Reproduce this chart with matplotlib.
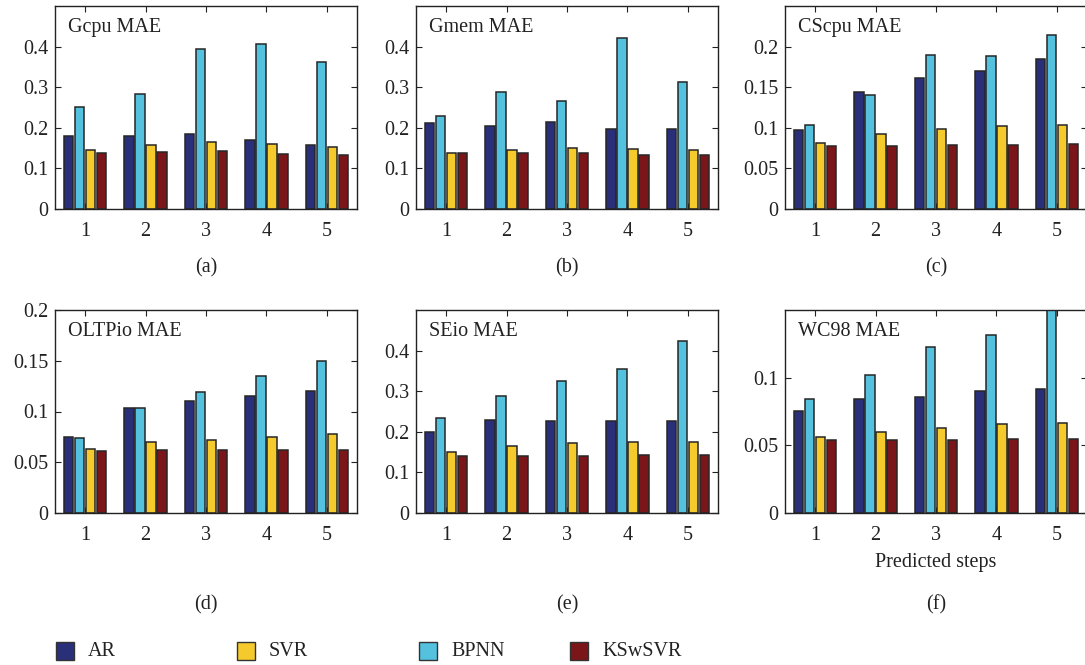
import matplotlib
matplotlib.use("Agg")
import matplotlib.pyplot as plt
from matplotlib.patches import Rectangle
import numpy as np

plt.rcParams['font.family'] = ['Liberation Serif', 'DejaVu Serif']

steps = [1, 2, 3, 4, 5]
methods = ["AR", "BPNN", "SVR", "KSwSVR"]
colors = {"AR": "#2A2F7A", "BPNN": "#54C1DF", "SVR": "#F4CA2C", "KSwSVR": "#7A1519"}

titles = ["Gcpu MAE", "Gmem MAE", "CScpu MAE", "OLTPio MAE", "SEio MAE", "WC98 MAE"]
panel_labels = ["(a)", "(b)", "(c)", "(d)", "(e)", "(f)"]

gcpu_ar = [0.181, 0.181, 0.184, 0.170, 0.157]
gcpu_bpnn = [0.251, 0.283, 0.393, 0.406, 0.362]
gcpu_svr = [0.146, 0.157, 0.166, 0.159, 0.152]
gcpu_ksw = [0.139, 0.141, 0.143, 0.135, 0.132]

gmem_ar = [0.211, 0.205, 0.214, 0.197, 0.198]
gmem_bpnn = [0.229, 0.289, 0.266, 0.421, 0.313]
gmem_svr = [0.139, 0.145, 0.150, 0.147, 0.145]
gmem_ksw = [0.139, 0.139, 0.139, 0.133, 0.134]

cscpu_ar = [0.0975, 0.144, 0.161, 0.170, 0.185]
cscpu_bpnn = [0.103, 0.141, 0.190, 0.189, 0.214]
cscpu_svr = [0.081, 0.092, 0.099, 0.102, 0.104]
cscpu_ksw = [0.078, 0.078, 0.079, 0.079, 0.080]

oltp_ar = [0.0751, 0.1036, 0.110, 0.1157, 0.120]
oltp_bpnn = [0.0738, 0.103, 0.119, 0.135, 0.150]
oltp_svr = [0.0633, 0.0702, 0.0721, 0.0744, 0.0777]
oltp_ksw = [0.0613, 0.0616, 0.0616, 0.0620, 0.0623]

seio_ar = [0.200, 0.230, 0.226, 0.226, 0.227]
seio_bpnn = [0.234, 0.287, 0.325, 0.354, 0.423]
seio_svr = [0.151, 0.165, 0.172, 0.176, 0.176]
seio_ksw = [0.141, 0.141, 0.141, 0.142, 0.142]

wc98_ar = [0.0752, 0.0845, 0.0857, 0.0902, 0.0917]
wc98_bpnn = [0.084, 0.1017, 0.1229, 0.1312, 0.152]
wc98_svr = [0.0565, 0.0597, 0.0631, 0.0658, 0.0666]
wc98_ksw = [0.0538, 0.0543, 0.0543, 0.0545, 0.0550]

data = [
    [gcpu_ar, gcpu_bpnn, gcpu_svr, gcpu_ksw],
    [gmem_ar, gmem_bpnn, gmem_svr, gmem_ksw],
    [cscpu_ar, cscpu_bpnn, cscpu_svr, cscpu_ksw],
    [oltp_ar, oltp_bpnn, oltp_svr, oltp_ksw],
    [seio_ar, seio_bpnn, seio_svr, seio_ksw],
    [wc98_ar, wc98_bpnn, wc98_svr, wc98_ksw],
]
ylims = [0.5, 0.5, 0.25, 0.2, 0.5, 0.15]
yticks = [[0, 0.1, 0.2, 0.3, 0.4], [0, 0.1, 0.2, 0.3, 0.4], [0, 0.05, 0.1, 0.15, 0.2],
          [0, 0.05, 0.1, 0.15, 0.2], [0, 0.1, 0.2, 0.3, 0.4], [0, 0.05, 0.1]]
ytlabels = [["0", "0.1", "0.2", "0.3", "0.4"], ["0", "0.1", "0.2", "0.3", "0.4"],
            ["0", "0.05", "0.1", "0.15", "0.2"], ["0", "0.05", "0.1", "0.15", "0.2"],
            ["0", "0.1", "0.2", "0.3", "0.4"], ["0", "0.05", "0.1"]]

W, H = 1085, 665
fig = plt.figure(figsize=(W / 100, H / 100), dpi=100)

lefts = [55, 416, 785]
tops = [6, 310]
aw, ah = 302, 203
FS = 14.5

x = np.array(steps, dtype=float)
offsets = np.array([-1.5, -0.5, 0.5, 1.5]) * 0.182
bw = 0.157

for k in range(6):
    r, c = divmod(k, 3)
    l = lefts[c]
    t = tops[r]
    ax = fig.add_axes([l / W, 1 - (t + ah) / H, aw / W, ah / H])
    for j, m in enumerate(methods):
        ax.bar(x + offsets[j], data[k][j], width=bw, color=colors[m],
               edgecolor="#262626", linewidth=1.1, zorder=2)
    ax.set_xlim(0.5, 5.5)
    ax.set_ylim(0, ylims[k])
    ax.set_xticks(steps)
    ax.set_xticklabels([str(s) for s in steps])
    ax.set_yticks(yticks[k])
    ax.set_yticklabels(ytlabels[k])
    ax.tick_params(direction="in", top=True, right=True, length=4, width=0.8,
                   labelsize=FS, colors="#222222", pad=5)
    ax.tick_params(axis="x", pad=9)
    for sp in ax.spines.values():
        sp.set_linewidth(1.0)
        sp.set_color("#222222")
    ax.text(0.043, 0.895, titles[k], transform=ax.transAxes, ha="left", va="center",
            fontsize=FS, color="#222222")
    cx = (l + aw / 2) / W
    ly = 268 if r == 0 else 605
    fig.text(cx, 1 - ly / H, panel_labels[k], ha="center", va="center",
             fontsize=FS, color="#222222")
    if k == 5:
        fig.text(cx, 1 - 563 / H, "Predicted steps", ha="center", va="center",
                 fontsize=FS, color="#222222")

# legend
leg_items = [("AR", 56), ("SVR", 237), ("BPNN", 419), ("KSwSVR", 570)]
sq = 18
ly = 651
for name, lx in leg_items:
    fig.patches.append(Rectangle((lx / W, 1 - (ly + sq / 2) / H), sq / W, sq / H,
                                 transform=fig.transFigure, facecolor=colors[name],
                                 edgecolor="#333333", linewidth=1.0))
    fig.text((lx + sq + 14) / W, 1 - ly / H, name, ha="left", va="center",
             fontsize=FS, color="#222222")

fig.savefig("out.png", dpi=100)
